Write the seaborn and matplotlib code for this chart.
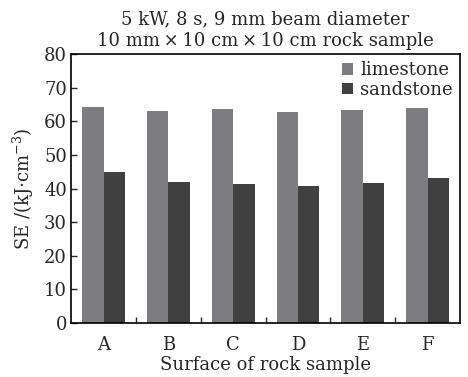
import numpy as np
import pandas as pd
import matplotlib
matplotlib.use('Agg')
import matplotlib.pyplot as plt
import seaborn as sns

# data
surfaces = ['A', 'B', 'C', 'D', 'E', 'F']
limestone = [64.1, 62.9, 63.6, 62.7, 63.3, 63.8]
sandstone = [44.9, 42.0, 41.4, 40.6, 41.6, 43.0]

df = pd.DataFrame({
    'surface': surfaces * 2,
    'rock': ['limestone'] * 6 + ['sandstone'] * 6,
    'SE': limestone + sandstone,
})

sns.set_style('ticks')
plt.rcParams['font.family'] = ['DejaVu Serif']
plt.rcParams['mathtext.fontset'] = 'dejavuserif'

fig = plt.figure(figsize=(4.68, 3.77), dpi=100)
ax = fig.add_axes([0.152, 0.143, 0.831, 0.714])

sns.barplot(data=df, x='surface', y='SE', hue='rock',
            palette=['#7d7d81', '#404040'], width=0.66,
            linewidth=0, saturation=1, ax=ax)

ax.set_ylim(0, 80)
ax.set_xlim(-0.5, 5.5)
ax.set_yticks(np.arange(0, 81, 10))
ax.set_xticks(range(6))
ax.set_xticks(np.arange(0.5, 5.5, 1), minor=True)
ax.tick_params(axis='x', which='major', length=0, labelsize=13, pad=9)
ax.tick_params(axis='x', which='minor', length=4, direction='in', width=1)
ax.tick_params(axis='y', direction='in', length=4, width=1, labelsize=13, pad=3)
for s in ax.spines.values():
    s.set_visible(True)
    s.set_linewidth(1.2)
    s.set_color('black')

ax.set_xlabel('Surface of rock sample', fontsize=13, labelpad=2)
ax.set_ylabel(r'SE /(kJ$\cdot$cm$^{-3}$)', fontsize=13, labelpad=6)
ax.set_title('5 kW, 8 s, 9 mm beam diameter\n'
             '10 mm\u2009×\u200910 cm\u2009×\u200910 cm rock sample',
             fontsize=13, linespacing=1.25, pad=6)

leg = ax.legend(loc='upper right', frameon=False, fontsize=13,
                handlelength=0.6, handleheight=0.6, handletextpad=0.4,
                borderaxespad=0.0, labelspacing=0.1)

fig.savefig('out.png', dpi=100)
